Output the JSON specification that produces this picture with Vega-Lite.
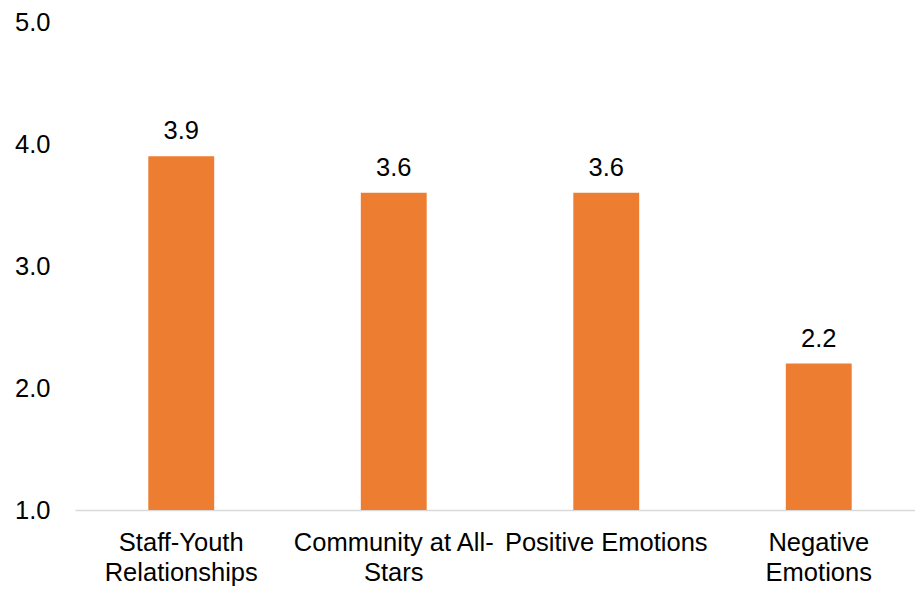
{
  "$schema": "https://vega.github.io/schema/vega-lite/v6.json",
  "autosize": {"type": "none"},
  "padding": {"left": 75, "top": 22, "right": 0, "bottom": 80},
  "width": 850,
  "height": 488,
  "background": "white",
  "config": {
    "view": {"stroke": null},
    "font": "Liberation Sans",
    "text": {"font": "Liberation Sans"}
  },
  "data": {
    "values": [
      {"category": "Staff-Youth Relationships", "value": 3.9},
      {"category": "Community at All-Stars", "value": 3.6},
      {"category": "Positive Emotions", "value": 3.6},
      {"category": "Negative Emotions", "value": 2.2}
    ]
  },
  "encoding": {
    "x": {
      "field": "category",
      "type": "nominal",
      "sort": null,
      "scale": {"paddingInner": 0.69, "paddingOuter": 0.345},
      "axis": {
        "title": null,
        "labelAngle": 0,
        "ticks": false,
        "domainColor": "#D9D9D9",
        "domainWidth": 1.5,
        "labelFont": "Liberation Sans",
        "labelFontSize": 25.5,
        "labelColor": "#000000",
        "labelPadding": 20,
        "labelBaseline": "top",
        "labelLineHeight": 30,
        "labelLimit": 0,
        "labelExpr": "datum.value == 'Staff-Youth Relationships' ? ['Staff-Youth','Relationships'] : datum.value == 'Community at All-Stars' ? ['Community at All-','Stars'] : datum.value == 'Negative Emotions' ? ['Negative','Emotions'] : datum.value",
        "labelOverlap": false
      }
    },
    "y": {
      "field": "value",
      "type": "quantitative",
      "scale": {"domain": [1, 5], "nice": false, "zero": false},
      "axis": {
        "title": null,
        "values": [1, 2, 3, 4, 5],
        "format": ".1f",
        "grid": false,
        "domain": false,
        "ticks": false,
        "labelFont": "Liberation Sans",
        "labelFontSize": 25.5,
        "labelColor": "#000000",
        "labelPadding": 25
      }
    }
  },
  "layer": [
    {
      "mark": {"type": "bar", "color": "#ED7D31"},
      "encoding": {"y2": {"datum": 1}}
    },
    {
      "mark": {"type": "text", "fontSize": 25.5, "color": "#000000", "baseline": "alphabetic", "dy": -17},
      "encoding": {
        "text": {"field": "value", "type": "quantitative", "format": ".1f"}
      }
    }
  ]
}
